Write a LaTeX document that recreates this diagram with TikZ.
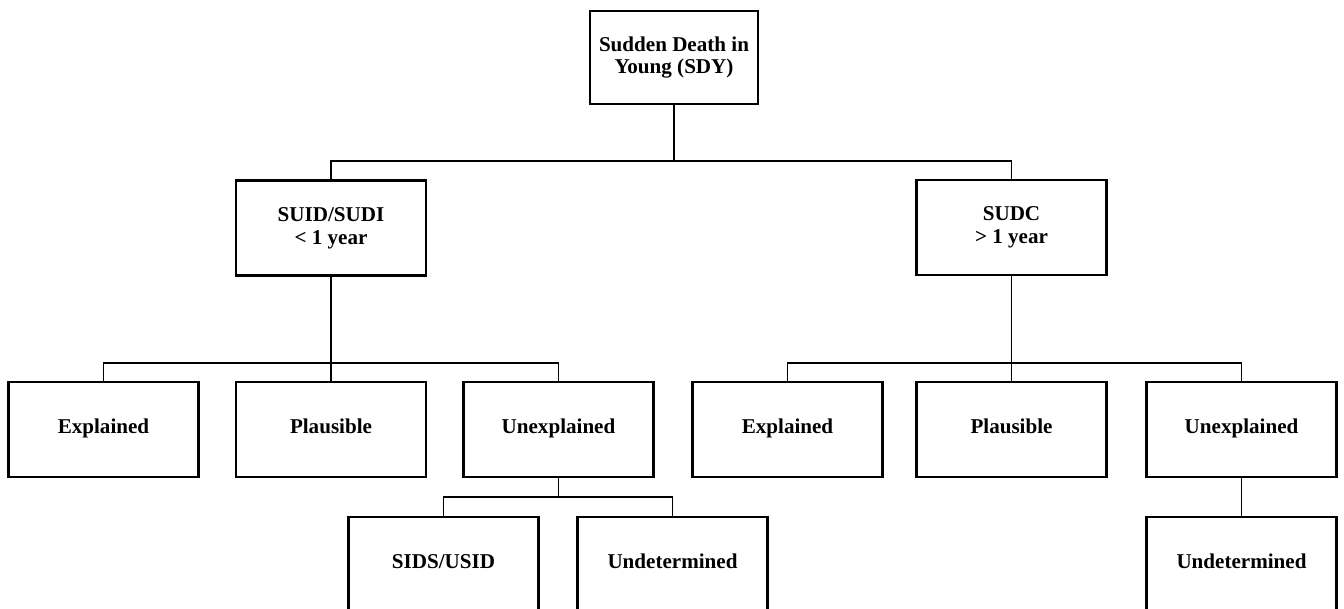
\documentclass[tikz,border=0pt]{standalone}
\usepackage{fontspec}
\setmainfont{Liberation Serif}
\begin{document}
\begin{tikzpicture}[x=0.02cm,y=-0.02cm,
    box/.style={draw,line width=1.2pt,minimum width=3.8cm,minimum height=1.9cm,align=center,
      font=\fontsize{12}{13}\selectfont\bfseries},
    leaf/.style={box,text height=1.6ex,text depth=0.5ex},
    link/.style={line width=1pt}]
  \useasboundingbox (0,0) rectangle (1344,608);
  \node[box,minimum width=3.36cm,minimum height=1.86cm] (sdy) at (674,57.5) {Sudden Death in\\Young (SDY)};
  \node[box] (suid) at (331,228) {SUID/SUDI\\\textless\ 1 year};
  \node[box] (sudc) at (1011.5,227.5) {SUDC\\\textgreater\ 1 year};
  \node[leaf] (explL) at (103.5,429.5) {Explained};
  \node[leaf] (plauL) at (331,429.5) {Plausible};
  \node[leaf] (unexL) at (558.5,429.5) {Unexplained};
  \node[leaf] (explR) at (787.5,429.5) {Explained};
  \node[leaf] (plauR) at (1011.5,429.5) {Plausible};
  \node[leaf] (unexR) at (1241.5,429.5) {Unexplained};
  \node[leaf] (sids) at (443.5,564.5) {SIDS/USID};
  \node[leaf] (undL) at (672.5,564.5) {Undetermined};
  \node[leaf] (undR) at (1241.5,564.5) {Undetermined};
  \coordinate (j0) at (674,161);
  \coordinate (j1) at (331,363);
  \coordinate (j2) at (1011.5,363);
  \coordinate (j3) at (558.5,497);
  \draw[link] (sdy) -- (j0);
  \draw[link] (suid.north) |- (j0) -| (sudc.north);
  \draw[link] (suid) -- (j1) -- (plauL);
  \draw[link] (explL.north) |- (j1) -| (unexL.north);
  \draw[link] (sudc) -- (j2) -- (plauR);
  \draw[link] (explR.north) |- (j2) -| (unexR.north);
  \draw[link] (unexL) -- (j3);
  \draw[link] (sids.north) |- (j3) -| (undL.north);
  \draw[link] (unexR) -- (undR);
\end{tikzpicture}
\end{document}
